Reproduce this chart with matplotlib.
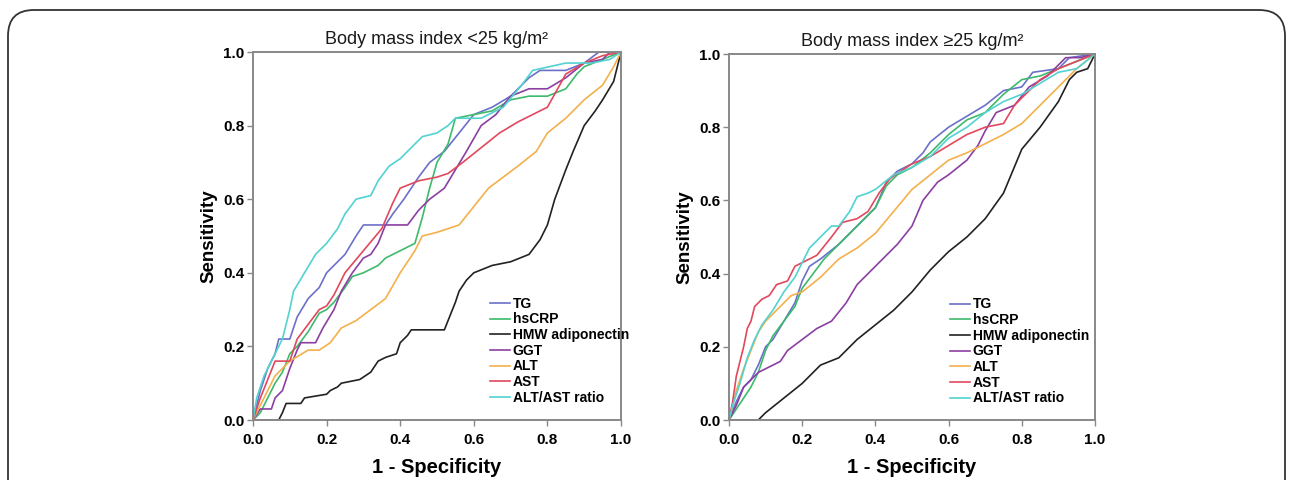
import numpy as np
import matplotlib
matplotlib.use('Agg')
import matplotlib.pyplot as plt
from matplotlib.patches import FancyBboxPatch

plt.rcParams['font.family'] = ['Liberation Sans', 'DejaVu Sans']

names = ['TG', 'hsCRP', 'HMW adiponectin', 'GGT', 'ALT', 'AST', 'ALT/AST ratio']
colors = ['#6b70c9', '#3dba6c', '#222222', '#8b3fa2', '#f3b04c', '#e2485c', '#52d2d2']
titles = ['Body mass index <25 kg/m\u00b2', 'Body mass index \u226525 kg/m\u00b2']

# BMI < 25 : (1 - specificity, sensitivity)
low_tg = [(0, 0), (0.02, 0.08), (0.04, 0.14), (0.06, 0.18), (0.07, 0.22), (0.1, 0.22), (0.12, 0.28),
          (0.15, 0.33), (0.18, 0.36), (0.2, 0.40), (0.22, 0.42), (0.25, 0.45), (0.28, 0.50), (0.3, 0.53),
          (0.36, 0.53), (0.38, 0.56), (0.41, 0.60), (0.45, 0.66), (0.48, 0.70), (0.52, 0.73), (0.56, 0.78),
          (0.6, 0.83), (0.65, 0.85), (0.7, 0.88), (0.75, 0.93), (0.78, 0.95), (0.85, 0.95), (0.9, 0.97),
          (0.94, 1.0), (1, 1)]
low_crp = [(0, 0), (0.02, 0.02), (0.04, 0.06), (0.06, 0.10), (0.08, 0.13), (0.1, 0.18), (0.12, 0.20),
           (0.15, 0.24), (0.18, 0.29), (0.2, 0.30), (0.22, 0.32), (0.25, 0.36), (0.27, 0.39), (0.3, 0.40),
           (0.34, 0.42), (0.36, 0.44), (0.4, 0.46), (0.44, 0.48), (0.46, 0.55), (0.48, 0.63), (0.5, 0.70),
           (0.53, 0.75), (0.55, 0.82), (0.6, 0.83), (0.65, 0.84), (0.7, 0.87), (0.75, 0.88), (0.8, 0.88),
           (0.85, 0.90), (0.88, 0.94), (0.9, 0.96), (0.95, 0.98), (1, 1)]
low_hmw = [(0, 0), (0.07, 0.0), (0.08, 0.02), (0.09, 0.045), (0.13, 0.045), (0.14, 0.06), (0.2, 0.07),
           (0.21, 0.08), (0.23, 0.09), (0.24, 0.10), (0.29, 0.11), (0.32, 0.13), (0.34, 0.16), (0.36, 0.17),
           (0.39, 0.18), (0.4, 0.21), (0.42, 0.23), (0.43, 0.245), (0.52, 0.245), (0.53, 0.27), (0.55, 0.32),
           (0.56, 0.35), (0.58, 0.38), (0.6, 0.40), (0.65, 0.42), (0.7, 0.43), (0.75, 0.45), (0.78, 0.49),
           (0.8, 0.53), (0.82, 0.60), (0.85, 0.68), (0.87, 0.73), (0.9, 0.80), (0.93, 0.84), (0.95, 0.87),
           (0.98, 0.92), (1, 1)]
low_ggt = [(0, 0), (0.02, 0.03), (0.05, 0.03), (0.06, 0.06), (0.08, 0.08), (0.1, 0.14), (0.12, 0.19),
           (0.13, 0.21), (0.17, 0.21), (0.19, 0.25), (0.22, 0.30), (0.24, 0.35), (0.27, 0.40), (0.3, 0.44),
           (0.32, 0.45), (0.34, 0.48), (0.36, 0.53), (0.42, 0.53), (0.45, 0.57), (0.48, 0.60), (0.52, 0.63),
           (0.55, 0.68), (0.58, 0.73), (0.62, 0.80), (0.66, 0.83), (0.7, 0.88), (0.75, 0.90), (0.8, 0.90),
           (0.85, 0.93), (0.9, 0.97), (0.95, 0.98), (0.97, 1.0), (1, 1)]
low_alt = [(0, 0), (0.02, 0.04), (0.04, 0.08), (0.06, 0.12), (0.1, 0.16), (0.15, 0.19), (0.18, 0.19),
           (0.21, 0.21), (0.24, 0.25), (0.28, 0.27), (0.32, 0.30), (0.36, 0.33), (0.4, 0.40), (0.44, 0.46),
           (0.46, 0.50), (0.5, 0.51), (0.56, 0.53), (0.6, 0.58), (0.64, 0.63), (0.68, 0.66), (0.72, 0.69),
           (0.77, 0.73), (0.8, 0.78), (0.85, 0.82), (0.9, 0.87), (0.95, 0.91), (0.98, 0.96), (1, 1)]
low_ast = [(0, 0), (0.02, 0.06), (0.04, 0.11), (0.06, 0.16), (0.1, 0.16), (0.12, 0.22), (0.15, 0.26),
           (0.18, 0.30), (0.2, 0.31), (0.22, 0.34), (0.25, 0.40), (0.3, 0.46), (0.35, 0.52), (0.38, 0.59),
           (0.4, 0.63), (0.45, 0.65), (0.5, 0.66), (0.53, 0.67), (0.57, 0.70), (0.62, 0.74), (0.67, 0.78),
           (0.72, 0.81), (0.8, 0.85), (0.85, 0.94), (0.9, 0.97), (0.95, 0.99), (1, 1)]
low_ratio = [(0, 0), (0.01, 0.06), (0.03, 0.12), (0.06, 0.18), (0.08, 0.22), (0.1, 0.30), (0.11, 0.35),
             (0.14, 0.40), (0.17, 0.45), (0.2, 0.48), (0.23, 0.52), (0.25, 0.56), (0.28, 0.60), (0.32, 0.61),
             (0.34, 0.65), (0.37, 0.69), (0.4, 0.71), (0.43, 0.74), (0.46, 0.77), (0.5, 0.78), (0.53, 0.80),
             (0.55, 0.82), (0.62, 0.82), (0.68, 0.85), (0.73, 0.91), (0.76, 0.95), (0.85, 0.97), (0.92, 0.97),
             (0.97, 0.98), (1, 1)]

# BMI >= 25
high_tg = [(0, 0), (0.02, 0.05), (0.04, 0.09), (0.06, 0.11), (0.08, 0.15), (0.1, 0.20), (0.12, 0.22),
           (0.15, 0.27), (0.18, 0.32), (0.2, 0.38), (0.22, 0.42), (0.25, 0.44), (0.3, 0.48), (0.35, 0.53),
           (0.4, 0.58), (0.43, 0.65), (0.46, 0.68), (0.5, 0.70), (0.53, 0.73), (0.55, 0.76), (0.6, 0.80),
           (0.65, 0.83), (0.7, 0.86), (0.75, 0.90), (0.8, 0.91), (0.83, 0.95), (0.9, 0.96), (0.93, 0.99),
           (1, 1)]
high_crp = [(0, 0), (0.02, 0.03), (0.04, 0.06), (0.06, 0.09), (0.08, 0.13), (0.1, 0.19), (0.12, 0.23),
            (0.15, 0.27), (0.18, 0.31), (0.2, 0.36), (0.23, 0.40), (0.26, 0.44), (0.3, 0.48), (0.35, 0.53),
            (0.4, 0.58), (0.43, 0.64), (0.46, 0.67), (0.5, 0.69), (0.55, 0.73), (0.6, 0.78), (0.65, 0.82),
            (0.7, 0.84), (0.75, 0.89), (0.8, 0.93), (0.85, 0.94), (0.9, 0.96), (0.95, 0.98), (1, 1)]
high_hmw = [(0, 0), (0.08, 0.0), (0.1, 0.02), (0.15, 0.06), (0.2, 0.10), (0.25, 0.15), (0.3, 0.17),
            (0.35, 0.22), (0.4, 0.26), (0.45, 0.30), (0.5, 0.35), (0.55, 0.41), (0.6, 0.46), (0.65, 0.50),
            (0.7, 0.55), (0.75, 0.62), (0.8, 0.74), (0.85, 0.80), (0.9, 0.87), (0.93, 0.93), (0.95, 0.95),
            (0.98, 0.96), (1, 1)]
high_ggt = [(0, 0), (0.02, 0.04), (0.04, 0.09), (0.06, 0.11), (0.08, 0.13), (0.1, 0.14), (0.14, 0.16),
            (0.16, 0.19), (0.2, 0.22), (0.24, 0.25), (0.28, 0.27), (0.32, 0.32), (0.35, 0.37), (0.38, 0.40),
            (0.42, 0.44), (0.46, 0.48), (0.5, 0.53), (0.53, 0.60), (0.57, 0.65), (0.6, 0.67), (0.65, 0.71),
            (0.68, 0.75), (0.7, 0.79), (0.73, 0.84), (0.78, 0.86), (0.82, 0.91), (0.87, 0.94), (0.92, 0.99),
            (0.96, 0.99), (1, 1)]
high_alt = [(0, 0), (0.01, 0.04), (0.02, 0.08), (0.04, 0.14), (0.06, 0.19), (0.08, 0.24), (0.1, 0.27),
            (0.13, 0.30), (0.17, 0.34), (0.2, 0.35), (0.25, 0.39), (0.3, 0.44), (0.35, 0.47), (0.4, 0.51),
            (0.45, 0.57), (0.5, 0.63), (0.55, 0.67), (0.6, 0.71), (0.65, 0.73), (0.7, 0.755), (0.75, 0.78),
            (0.8, 0.81), (0.85, 0.86), (0.9, 0.91), (0.95, 0.96), (1, 1)]
high_ast = [(0, 0), (0.01, 0.05), (0.02, 0.12), (0.03, 0.16), (0.04, 0.20), (0.05, 0.25), (0.06, 0.27),
            (0.07, 0.31), (0.09, 0.33), (0.11, 0.34), (0.13, 0.37), (0.16, 0.38), (0.18, 0.42), (0.2, 0.43),
            (0.24, 0.45), (0.28, 0.50), (0.31, 0.54), (0.35, 0.55), (0.38, 0.57), (0.41, 0.62), (0.44, 0.66),
            (0.47, 0.68), (0.5, 0.70), (0.55, 0.72), (0.6, 0.75), (0.65, 0.78), (0.7, 0.80), (0.75, 0.81),
            (0.78, 0.86), (0.82, 0.90), (0.85, 0.93), (0.9, 0.96), (0.95, 0.98), (1, 1)]
high_ratio = [(0, 0), (0.01, 0.04), (0.03, 0.10), (0.05, 0.17), (0.07, 0.22), (0.09, 0.26), (0.12, 0.30),
              (0.15, 0.35), (0.18, 0.39), (0.2, 0.43), (0.22, 0.47), (0.25, 0.50), (0.28, 0.53), (0.3, 0.53),
              (0.33, 0.57), (0.35, 0.61), (0.38, 0.62), (0.4, 0.63), (0.45, 0.67), (0.5, 0.69), (0.55, 0.72),
              (0.6, 0.77), (0.65, 0.80), (0.7, 0.84), (0.75, 0.87), (0.8, 0.89), (0.85, 0.92), (0.9, 0.95),
              (0.95, 0.96), (1, 1)]

low = [low_tg, low_crp, low_hmw, low_ggt, low_alt, low_ast, low_ratio]
high = [high_tg, high_crp, high_hmw, high_ggt, high_alt, high_ast, high_ratio]

ticks = [0.0, 0.2, 0.4, 0.6, 0.8, 1.0]
tick_labels = ['0.0', '0.2', '0.4', '0.6', '0.8', '1.0']

fig = plt.figure(figsize=(12.92, 4.8), dpi=100)

# rounded frame around the panel
frame = FancyBboxPatch((8 / 1292, -0.1), 1277 / 1292, (470 + 48) / 480,
                       boxstyle='round,pad=0,rounding_size=0.02', transform=fig.transFigure,
                       fill=False, edgecolor='#333333', linewidth=1.3, mutation_aspect=2.7)
fig.patches.append(frame)

positions = [[253 / 1292, 60 / 480, 368 / 1292, 368 / 480],
             [729 / 1292, 60 / 480, 366 / 1292, 366 / 480]]
legend_anchor = [(0.63, 0.35), (0.59, 0.35)]

for k, data in enumerate([low, high]):
    ax = fig.add_axes(positions[k])
    for curve, name, c in zip(data, names, colors):
        pts = np.array(curve)
        ax.plot(pts[:, 0], pts[:, 1], color=c, linewidth=1.2, label=name)
    ax.set_xlim(0, 1)
    ax.set_ylim(0, 1)
    ax.set_xticks(ticks)
    ax.set_yticks(ticks)
    ax.set_xticklabels(tick_labels, fontweight='bold', fontsize=11)
    ax.set_yticklabels(tick_labels, fontweight='bold', fontsize=11)
    ax.tick_params(axis='x', length=4, width=1, color='#888888', pad=5)
    ax.tick_params(axis='y', length=4, width=1, color='#888888', pad=2)
    for s in ax.spines.values():
        s.set_color('#888888')
        s.set_linewidth(1.4)
    ax.set_title(titles[k], fontsize=13, pad=6, color='#1a1a1a')
    ax.set_xlabel('1 - Specificity', fontsize=14.5, fontweight='bold', labelpad=8)
    ax.set_ylabel('Sensitivity', fontsize=13.5, fontweight='bold', labelpad=4)
    leg = ax.legend(loc='upper left', bbox_to_anchor=legend_anchor[k], frameon=False,
                    handlelength=1.4, handletextpad=0.2, labelspacing=0.12, borderaxespad=0,
                    prop={'weight': 'bold', 'size': 10})
    for line in leg.get_lines():
        line.set_linewidth(1.2)

plt.savefig('out.png')
